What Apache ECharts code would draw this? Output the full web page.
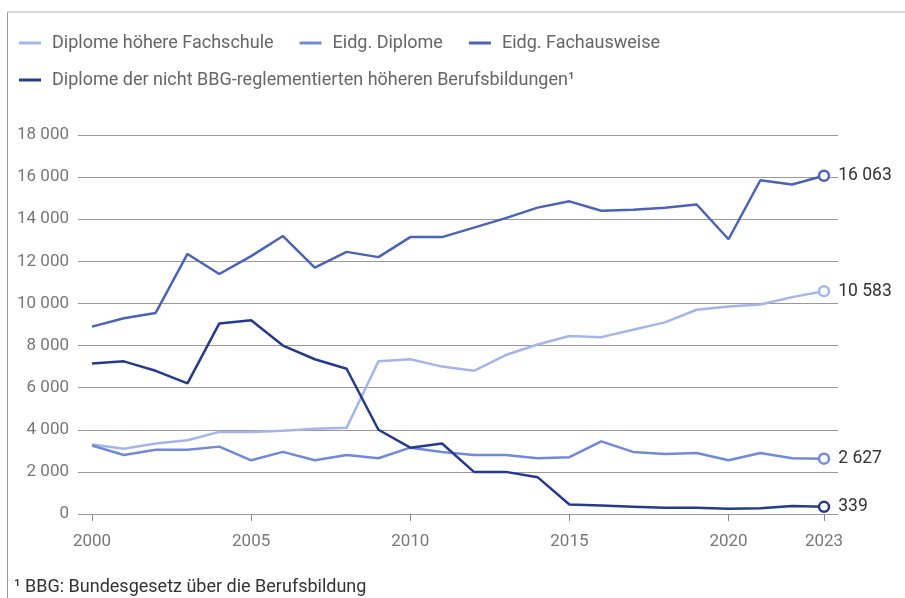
<!DOCTYPE html>
<html>
<head>
<meta charset="utf-8">
<script src="https://cdn.jsdelivr.net/npm/echarts@6/dist/echarts.min.js"></script>
<style>
    html, body { margin: 0; padding: 0; background: #fff; }
    #chart { width: 905px; height: 598px; }
</style>
</head>
<body>
<div id="chart"></div>
<script>
    var years = [];
    for (var y = 2000; y <= 2023; y++) years.push(y);

    var seriesNames = [
        'Diplome höhere Fachschule',
        'Eidg. Diplome',
        'Eidg. Fachausweise',
        'Diplome der nicht BBG-reglementierten höheren Berufsbildungen¹'
    ];
    var colors = ['#a4b5ea', '#7089d8', '#4a63b6', '#253a8b'];

    var fachschule = [3300, 3100, 3350, 3500, 3900, 3900, 3950, 4050, 4100, 7250, 7350, 7000,
        6800, 7550, 8050, 8450, 8400, 8750, 9100, 9700, 9850, 9950, 10300, 10583];
    var eidgDiplome = [3250, 2800, 3050, 3050, 3200, 2550, 2950, 2550, 2800, 2650, 3150, 2950,
        2800, 2800, 2650, 2700, 3450, 2950, 2850, 2900, 2550, 2900, 2650, 2627];
    var fachausweise = [8900, 9300, 9550, 12350, 11400, 12250, 13200, 11700, 12450, 12200, 13150, 13150,
        13600, 14050, 14550, 14850, 14400, 14450, 14550, 14700, 13050, 15850, 15650, 16063];
    var nichtBBG = [7150, 7250, 6800, 6200, 9050, 9200, 8000, 7350, 6900, 4000, 3150, 3350,
        2000, 2000, 1750, 450, 400, 350, 300, 300, 250, 270, 380, 339];

    var xTicks = [2000, 2005, 2010, 2015, 2020, 2023];
    var allData = [fachschule, eidgDiplome, fachausweise, nichtBBG];

    function fmt(v) {
        return String(v).replace(/\B(?=(\d{3})+(?!\d))/g, ' ');
    }

    var chart = echarts.init(document.getElementById('chart'));

    var series = allData.map(function (vals, i) {
        var last = vals.length - 1;
        return {
            name: seriesNames[i],
            type: 'line',
            color: colors[i],
            lineStyle: { width: 2.5 },
            showSymbol: true,
            symbol: 'none',
            z: 2 + i,
            data: vals.map(function (v, k) {
                var d = { value: [years[k], v] };
                if (k === last) {
                    d.symbol = 'circle';
                    d.symbolSize = 10;
                    d.itemStyle = { color: '#fff', borderColor: colors[i], borderWidth: 2.5 };
                    d.label = {
                        show: true,
                        position: 'right',
                        distance: 8,
                        formatter: fmt(v),
                        color: '#333',
                        fontSize: 17.5,
                        fontFamily: 'Roboto'
                    };
                }
                return d;
            })
        };
    });

    var legendText = { color: '#666', fontSize: 18, fontFamily: 'Roboto', padding: [0, 0, 0, 6] };

    var option = {
        animation: false,
        textStyle: { fontFamily: 'Roboto' },
        legend: [
            {
                data: seriesNames.slice(0, 3),
                left: 14, top: 29,
                icon: 'rect', itemWidth: 22, itemHeight: 3, itemGap: 26,
                textStyle: legendText
            },
            {
                data: seriesNames.slice(3),
                left: 14, top: 66,
                icon: 'rect', itemWidth: 22, itemHeight: 3,
                textStyle: legendText
            }
        ],
        grid: { left: 78, right: 67, top: 135, bottom: 84 },
        xAxis: {
            type: 'value',
            min: 1999.56,
            max: 2023.44,
            splitLine: { show: false },
            axisLine: { show: false },
            axisTick: {
                show: true,
                customValues: xTicks,
                length: 7,
                lineStyle: { color: '#888' }
            },
            axisLabel: {
                customValues: xTicks,
                color: '#777',
                fontSize: 17,
                margin: 19,
                formatter: function (v) { return String(v); }
            }
        },
        yAxis: {
            type: 'value',
            min: 0,
            max: 18000,
            interval: 2000,
            axisLine: { show: false },
            axisTick: { show: false },
            splitLine: { lineStyle: { color: '#999', width: 1 } },
            axisLabel: {
                color: '#777',
                fontSize: 17,
                margin: 9,
                formatter: fmt
            }
        },
        graphic: [
            { type: 'line', shape: { x1: 7.5, y1: 12, x2: 7.5, y2: 598 }, style: { stroke: '#999', lineWidth: 1 } },
            { type: 'line', shape: { x1: 7, y1: 12, x2: 905, y2: 12 }, style: { stroke: '#ccc', lineWidth: 1.5 } },
            {
                type: 'text', left: 14, top: 578,
                style: { text: '¹ BBG: Bundesgesetz über die Berufsbildung', fill: '#333', fontSize: 18, fontFamily: 'Roboto' }
            }
        ],
        series: series
    };

    chart.setOption(option);
</script>
</body>
</html>
